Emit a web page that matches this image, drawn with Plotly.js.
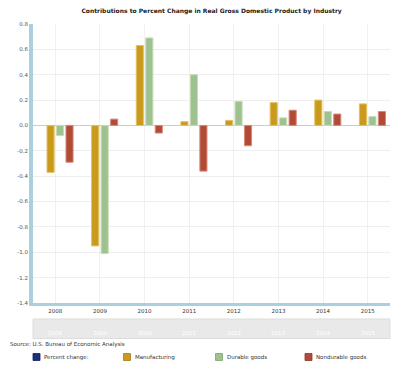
<!DOCTYPE html>
<html><head><meta charset="utf-8">
<script src="https://cdn.plot.ly/plotly-3.0.1.min.js"></script>
<style>html,body{margin:0;padding:0;background:#fff}#chart{width:400px;height:375px}</style>
</head><body><div id="chart"></div>
<script>
const years = ['2008','2009','2010','2011','2012','2013','2014','2015'];
const seriesNames = ['Percent change:','Manufacturing','Durable goods','Nondurable goods'];
const percentChange = [null,null,null,null,null,null,null,null];
const manufacturing = [-0.37,-0.95,0.63,0.03,0.04,0.18,0.20,0.17];
const durableGoods = [-0.08,-1.01,0.69,0.40,0.19,0.06,0.11,0.07];
const nondurableGoods = [-0.29,0.05,-0.06,-0.36,-0.16,0.12,0.09,0.11];
const yTickVals = [0.8,0.6,0.4,0.2,0,-0.2,-0.4,-0.6,-0.8,-1.0,-1.2,-1.4];
const yTickText = ['0.8','0.6','0.4','0.2','0.0','-0.2','-0.4','-0.6','-0.8','-1.0','-1.2','-1.4'];
const titleText = 'Contributions to Percent Change in Real Gross Domestic Product by Industry';
const sourceText = 'Source: U.S. Bureau of Economic Analysis';

const colors = ['#1b2f7d','#c99a1b','#9ec28f','#b34a36'];
const lineColors = ['#1b2f7d','#e2c063','#c4dcb8','#d48a7c'];
const legendBorders = ['#0f1f5c','#a67c10','#7fa56f','#8e3526'];
const values = [percentChange, manufacturing, durableGoods, nondurableGoods];

const traces = values.map((v,i)=>({
  type:'bar', x:years, y:v, name:seriesNames[i],
  marker:{color:colors[i], line:{color:lineColors[i], width:1}},
  hoverinfo:'x+y+name', showlegend:false
}));

const font = 'DejaVu Sans, Verdana, sans-serif';
const L = 33, T = 24, W = 357, H = 279;
const px = x => (x - L) / W;
const py = y => (T + H - y) / H;

const annotations = years.map((y,i)=>({
  x:i, xref:'x', y:py(333), yref:'paper', yanchor:'middle', showarrow:false,
  text:y, font:{family:font,size:5.5,color:'#ffffff'}
}));
annotations.push({
  x:px(8), xref:'paper', xanchor:'left', y:py(344), yref:'paper', yanchor:'middle',
  showarrow:false, text:sourceText, font:{family:font,size:5.5,color:'#333'}
});
const legendX = [33, 123.5, 215.5, 305];
const shapes = [{type:'rect', xref:'paper', yref:'paper', x0:0, x1:1, y0:py(319), y1:py(338.5),
    fillcolor:'#e9e9e9', line:{color:'#dddddd', width:1}, layer:'below'}];
seriesNames.forEach((n,i)=>{
  shapes.push({type:'rect', xref:'paper', yref:'paper', x0:px(legendX[i]), x1:px(legendX[i]+7),
    y0:py(353.5), y1:py(360.5), fillcolor:colors[i], line:{color:legendBorders[i], width:0.8}});
  annotations.push({x:px(legendX[i]+9), xref:'paper', xanchor:'left', y:py(357), yref:'paper', yanchor:'middle',
    showarrow:false, text:n, font:{family:font,size:5.5,color:'#333'}});
});

const layout = {
  width:400, height:375,
  margin:{l:L, r:400-L-W, t:T, b:375-T-H},
  paper_bgcolor:'#fff', plot_bgcolor:'#fff',
  title:{text:'<b>'+titleText+'</b>', font:{family:font,size:6,color:'#222'}, x:0.529, xanchor:'center', y:1-11/375, yanchor:'middle'},
  barmode:'group', bargap:0.15, bargroupgap:0.25,
  showlegend:false,
  xaxis:{type:'category', range:[-0.5,7.5], showgrid:true, gridcolor:'#f0f0f0', gridwidth:1,
    showline:true, linecolor:'#a9d0dc', linewidth:3, ticks:'',
    tickfont:{family:font,size:5.5,color:'#333'}, fixedrange:true},
  yaxis:{range:[-1.4,0.8], tickvals:yTickVals, ticktext:yTickText, showgrid:true, gridcolor:'#eeeeee',
    zeroline:true, zerolinecolor:'#cccccc', zerolinewidth:1,
    showline:true, linecolor:'#a9d0dc', linewidth:4, ticks:'',
    tickfont:{family:font,size:5.5,color:'#555'}, fixedrange:true},
  shapes:shapes,
  annotations:annotations
};
Plotly.newPlot('chart', traces, layout, {displayModeBar:false, staticPlot:true});
</script></body></html>
